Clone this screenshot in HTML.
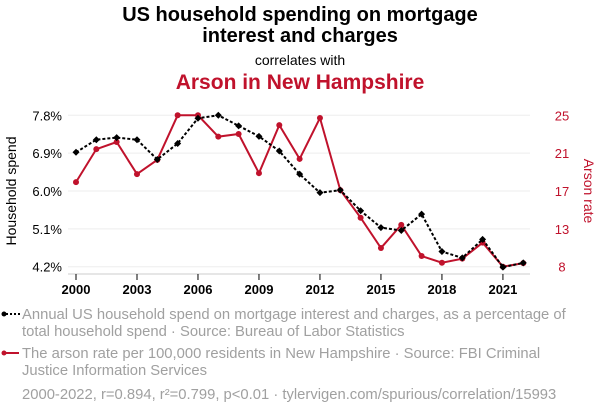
<!DOCTYPE html>
<html><head><meta charset="utf-8"><style>
body{margin:0;background:#fff;width:600px;height:414px;overflow:hidden;font-family:"Liberation Sans",sans-serif}
svg{display:block}
</style></head><body>
<svg id="c" width="600" height="414">
<text x="300" y="21" text-anchor="middle" font-size="20" font-weight="bold" fill="#000">US household spending on mortgage</text>
<text x="300" y="42" text-anchor="middle" font-size="20" font-weight="bold" fill="#000">interest and charges</text>
<text x="300" y="65" text-anchor="middle" font-size="14" fill="#000">correlates with</text>
<text x="300" y="89" text-anchor="middle" font-size="21" font-weight="bold" fill="#c0122c">Arson in New Hampshire</text>
<text transform="translate(16,191) rotate(-90)" text-anchor="middle" font-size="14" fill="#000">Household spend</text>
<text transform="translate(584,191) rotate(90)" text-anchor="middle" font-size="14" fill="#c0122c">Arson rate</text>
<g id="grid"></g><g id="axes"></g><g id="marks"></g>
<g font-size="14.8" fill="#a0a0a0">
<line x1="2" y1="314" x2="20" y2="314" stroke="#000" stroke-width="2" stroke-dasharray="2,2"/>
<circle cx="4" cy="314" r="2.5" fill="#000"/>
<text x="22" y="319">Annual US household spend on mortgage interest and charges, as a percentage of</text>
<text x="22" y="336">total household spend · Source: Bureau of Labor Statistics</text>
<line x1="2" y1="353" x2="19" y2="353" stroke="#c0122c" stroke-width="2"/>
<circle cx="4" cy="353" r="2.5" fill="#c0122c"/>
<text x="22" y="358">The arson rate per 100,000 residents in New Hampshire · Source: FBI Criminal</text>
<text x="22" y="375">Justice Information Services</text>
<text x="22" y="399">2000-2022, r=0.894, r²=0.799, p&lt;0.01 · tylervigen.com/spurious/correlation/15993</text>
</g>
</svg>
<script>
const years=[2000,2001,2002,2003,2004,2005,2006,2007,2008,2009,2010,2011,2012,2013,2014,2015,2016,2017,2018,2019,2020,2021,2022];
const spend=[6.92,7.22,7.27,7.22,6.75,7.13,7.73,7.8,7.55,7.30,6.95,6.40,5.96,6.02,5.53,5.13,5.06,5.45,4.56,4.41,4.85,4.19,4.29];
const arson=[17.5,21.2,22.0,18.4,20.0,25,25,22.6,22.9,18.5,23.9,20.1,24.7,16.6,13.5,10.1,12.7,9.2,8.45,8.9,10.7,8.0,8.4];
const leftTicks=["7.8%","6.9%","6.0%","5.1%","4.2%"];
const rightTicks=["25","21","17","13","8"];
const xTicks=[2000,2003,2006,2009,2012,2015,2018,2021];
const NS="http://www.w3.org/2000/svg";
const X=y=>76+(y-2000)*20.33;
const YL=v=>115.3+(7.8-v)/3.6*151.4;
const YR=v=>115.3+(25-v)/17*151.4;
function mk(t,a,p){const e=document.createElementNS(NS,t);for(const k in a)e.setAttribute(k,a[k]);p.appendChild(e);return e;}
const grid=document.getElementById('grid'),axes=document.getElementById('axes'),marks=document.getElementById('marks');
leftTicks.forEach((t,i)=>{const y=115.3+i*151.4/4;
 const g=mk('line',{x1:68,x2:530,y1:y,y2:y,stroke:'#eee','stroke-width':1},grid);
 
 
 const a=mk('text',{x:62,y:y+5,'text-anchor':'end','font-size':13,fill:'#000'},axes);a.textContent=t;
 
 
 const b=mk('text',{x:562,y:y+5,'text-anchor':'middle','font-size':13,fill:'#c0122c'},axes);b.textContent=rightTicks[i];
 
 
});
mk('line',{x1:68,x2:530,y1:274,y2:274,stroke:'#ccc','stroke-width':1},axes);
xTicks.forEach(t=>{const x=X(t);
 mk('line',{x1:x,x2:x,y1:274,y2:280,stroke:'#000','stroke-width':1},axes);
 const a=mk('text',{x:x,y:294,'text-anchor':'middle','font-size':13,'font-weight':'bold',fill:'#000'},axes);a.textContent=t;
 
 
});
const rp=mk('polyline',{points:years.map((y,i)=>X(y)+','+YR(arson[i])).join(' '),fill:'none',stroke:'#c0122c','stroke-width':2},marks);


years.forEach((y,i)=>{const c=mk('circle',{cx:X(y),cy:YR(arson[i]),r:3,fill:'#c0122c'},marks);
 
 });
const bp=mk('polyline',{points:years.map((y,i)=>X(y)+','+YL(spend[i])).join(' '),fill:'none',stroke:'#000','stroke-width':2,'stroke-dasharray':'3,2'},marks);


years.forEach((y,i)=>{const x=X(y),yy=YL(spend[i]);
 const c=mk('polygon',{points:`${x},${yy-3.5} ${x+3.5},${yy} ${x},${yy+3.5} ${x-3.5},${yy}`,fill:'#000'},marks);
 
 });
</script>
</body></html>
